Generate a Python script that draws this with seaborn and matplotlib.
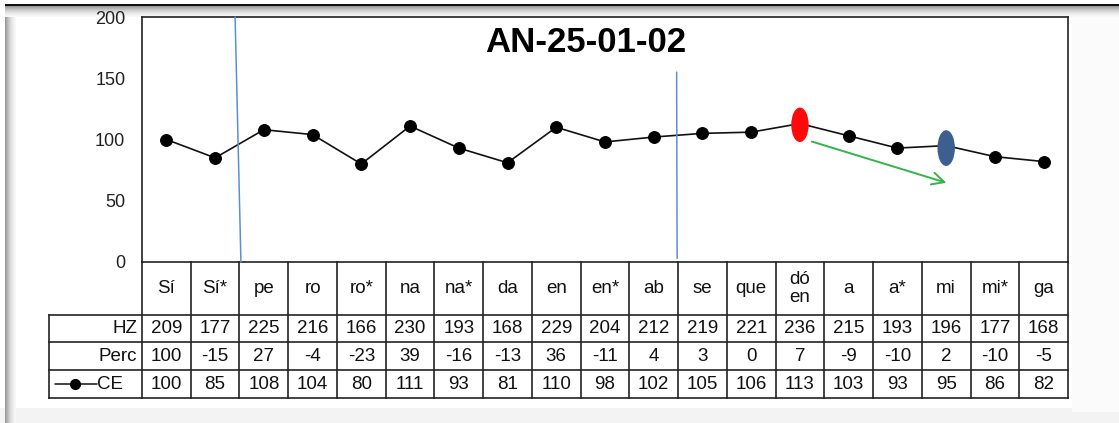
import numpy as np
import matplotlib
matplotlib.use('Agg')
import matplotlib.pyplot as plt
from matplotlib.patches import Ellipse, Rectangle
import seaborn as sns

# --- data ---
syllables = ['Sí', 'Sí*', 'pe', 'ro', 'ro*', 'na', 'na*', 'da', 'en', 'en*',
             'ab', 'se', 'que', 'dó\nen', 'a', 'a*', 'mi', 'mi*', 'ga']
hz = [209, 177, 225, 216, 166, 230, 193, 168, 229, 204,
      212, 219, 221, 236, 215, 193, 196, 177, 168]
perc = [100, -15, 27, -4, -23, 39, -16, -13, 36, -11,
        4, 3, 0, 7, -9, -10, 2, -10, -5]
ce = [100, 85, 108, 104, 80, 111, 93, 81, 110, 98,
      102, 105, 106, 113, 103, 93, 95, 86, 82]
row_names = ['HZ', 'Perc', 'CE']
title = 'AN-25-01-02'
y_ticks = [0, 50, 100, 150, 200]

# hand-drawn marks on the original chart
red_idx, blue_idx = 13, 16          # highlighted syllables (dó en, mi)
divider_1 = ([1.41, 1.53], [200, 0])
divider_2 = ([10.47, 10.48], [155, 3])
arrow_from, arrow_to = (13.19, 99), (16.06, 64)

sns.set_style('white')
plt.rcParams['font.family'] = ['Liberation Sans', 'DejaVu Sans']

W, H = 1119, 423
fig = plt.figure(figsize=(W / 100, H / 100), dpi=100)


def box(l, t, r, b):
    return [l / W, 1 - b / H, (r - l) / W, (b - t) / H]


# window-like frame around the chart
def frame_rect(x, y, w, h, c):
    fig.add_artist(Rectangle((x / W, 1 - (y + h) / H), w / W, h / H,
                             transform=fig.transFigure, color=c, lw=0, zorder=-5))


frame_rect(0, 408, W, 15, '#f3f3f3')
frame_rect(1072, 17, 47, 395, '#fbfbfb')
greys = ['#9a9a9a', '#a8a8a8', '#b6b6b6', '#c3c3c3', '#cfcfcf', '#d9d9d9',
         '#e2e2e2', '#e9e9e9', '#efefef', '#f4f4f4', '#f8f8f8']
for i, c in enumerate(greys):
    frame_rect(5, 6 + i, W - 5, 1, c)
    frame_rect(5 + i, 6 + i, 1, H - 6 - i, c)
frame_rect(5, 4, W - 5, 2, '#111111')

ax = fig.add_axes(box(142, 17, 1068, 262))
tab = fig.add_axes(box(142, 262, 1068, 398))

x = np.arange(len(ce))
sns.lineplot(x=x, y=ce, ax=ax, color='#111111', linewidth=1.2, marker='o',
             markersize=8.5, markeredgecolor='black', markerfacecolor='black')

ax.set_xlim(-0.5, len(ce) - 0.5)
ax.set_ylim(0, 200)
ax.set_yticks(y_ticks)
ax.set_xticks([])
ax.set_xlabel('')
ax.set_ylabel('')
ax.tick_params(axis='y', length=0, pad=12, labelsize=13, labelcolor='#222222')
for s in ax.spines.values():
    s.set_color('#222222')
    s.set_linewidth(1.2)

ax.text(0.4795, 0.895, title, transform=ax.transAxes, ha='center', va='center',
        fontsize=25, fontweight='bold', color='black')

# annotations
ax.plot(*divider_1, color='#5b8fd3', lw=1.1, clip_on=False, zorder=4)
ax.plot(*divider_2, color='#5b8fd3', lw=1.1, clip_on=False, zorder=4)
ax.add_patch(Ellipse((red_idx, ce[red_idx] - 1), 16 / 48.74, 27, color='#ff0a0a', zorder=5))
ax.add_patch(Ellipse((blue_idx, ce[blue_idx] - 2), 16 / 48.74, 28, color='#3d5f8f', zorder=5))
ax.annotate('', xy=arrow_to, xytext=arrow_from,
            arrowprops=dict(arrowstyle='->', color='#33b54a', lw=1.4, mutation_scale=22))

# data table under the plot
tab.axis('off')
tab.set_xlim(-0.5, len(ce) - 0.5)
tab.set_ylim(136, 0)
col_w = 926 / len(ce)
lab_left = -0.5 - 93 / col_w
rows = [0, 53, 80, 108, 136]
lc = dict(color='#222222', lw=1.2, clip_on=False, solid_capstyle='projecting')
for k in range(len(ce) + 1):
    tab.plot([k - 0.5, k - 0.5], [0, 136], **lc)
tab.plot([lab_left, lab_left], [53, 136], **lc)
for r in rows[1:]:
    tab.plot([lab_left, len(ce) - 0.5], [r, r], **lc)

fs = 13.5
for i, s in enumerate(syllables):
    tab.text(i, 26.5, s, ha='center', va='center', fontsize=fs, linespacing=1.0, color='#111111')
for vals, (t, b) in zip([hz, perc, ce], zip(rows[1:], rows[2:])):
    for i, v in enumerate(vals):
        tab.text(i, (t + b) / 2, str(v), ha='center', va='center', fontsize=fs, color='#111111')
for name, (t, b) in zip(row_names[:2], zip(rows[1:], rows[2:])):
    tab.text(-0.5 - 5 / col_w, (t + b) / 2, name, ha='right', va='center', fontsize=fs, color='#111111')

# legend key inside the CE label cell
ky = (rows[3] + rows[4]) / 2
kx = lambda p: (p - 142) / col_w - 0.5
tab.plot([kx(55), kx(97)], [ky, ky], color='#111111', lw=1.1, clip_on=False)
tab.plot([kx(75)], [ky], marker='o', color='black', markersize=7, clip_on=False)
tab.text(kx(97), ky, row_names[2], ha='left', va='center', fontsize=fs, color='#111111')

fig.savefig('out.png', dpi=100)
